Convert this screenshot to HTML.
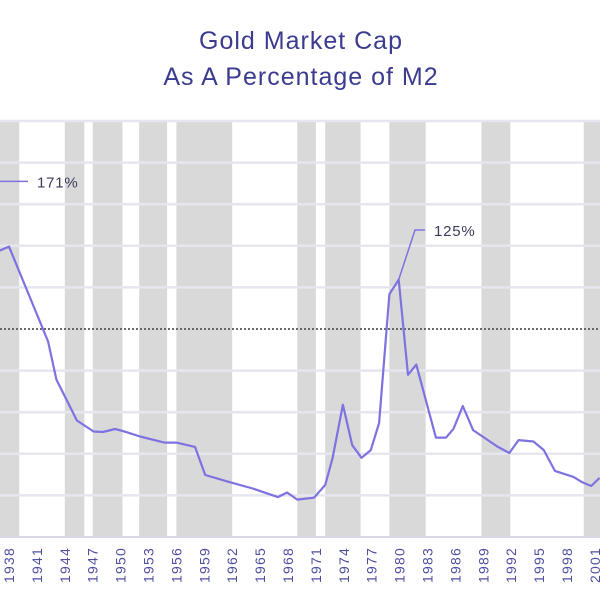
<!DOCTYPE html>
<html><head><meta charset="utf-8">
<style>
body{margin:0;background:#fff;}
svg{display:block;font-family:"Liberation Sans",sans-serif;}
</style></head>
<body>
<svg id="chart" width="600" height="600" viewBox="0 0 600 600">
  <text x="301" y="49" text-anchor="middle" font-size="25" letter-spacing="1" fill="#3b3b8f">Gold Market Cap</text>
  <text x="301" y="85" text-anchor="middle" font-size="25" letter-spacing="1" fill="#3b3b8f">As A Percentage of M2</text>
  <g id="bands"></g>
  <g id="grid"></g>
  <g id="series"></g>
  <g id="xlabels"></g>
  <g id="annot"></g>
</svg>
<script>
const years = [1937.0,1938,1942.2,1943.1,1945.3,1947.1,1948.1,1949.4,1950.2,1952.1,1954.7,1956.0,1958.0,1959.1,1961.7,1964.2,1966.9,1967.9,1969.0,1970.8,1972.0,1972.8,1973.9,1974.9,1975.9,1976.9,1977.8,1978.9,1979.9,1980.9,1981.8,1983.9,1985.0,1985.8,1986.8,1987.9,1990.5,1991.8,1992.8,1994.4,1995.5,1996.7,1998.7,1999.6,2000.6,2001.5];
const values = [137.7,139.6,94,75.7,56,50.7,50.5,51.9,51,48.3,45.4,45.4,43.3,29.8,26.4,23.3,19.2,21.4,18,18.9,25,38,63.6,44.2,38.1,41.8,54.8,116.8,123.7,78,82.9,47.8,47.8,52,63,51.4,43.5,40.4,46.6,45.9,41.8,31.8,28.9,26.4,24.5,28.4];
const bandStarts = [1937.0,1944.0,1947.0,1952.0,1956.0,1969.0,1972.0,1978.9,1988.8,1999.8];
const bandEnds   = [1939.1,1946.1,1950.2,1955.0,1962.0,1971.0,1975.8,1982.8,1991.9,2002.0];
const tickYears = [1938,1941,1944,1947,1950,1953,1956,1959,1962,1965,1968,1971,1974,1977,1980,1983,1986,1989,1992,1995,1998,2001];
const gridValues = [20,40,60,80,120,140,160,180,200];

const NS="http://www.w3.org/2000/svg";
const TOP=122, BOTTOM=537;
function xS(yr){return 9+(yr-1938)*9.3;}
function yS(v){return BOTTOM-v*2.08;}
function mk(tag,attrs,parent){const e=document.createElementNS(NS,tag);for(const k in attrs)e.setAttribute(k,attrs[k]);document.getElementById(parent).appendChild(e);return e;}

for(let i=0;i<bandStarts.length;i++){
  const r=mk('rect',{x:xS(bandStarts[i]),y:TOP,width:xS(bandEnds[i])-xS(bandStarts[i]),height:BOTTOM-TOP,fill:'#d9d9d9'},'bands');
  
  
}
for(const g of gridValues){
  const yy=yS(g);
  if(yy<TOP-2) continue;
  const l=mk('line',{x1:0,x2:600,y1:yy,y2:yy,stroke:'#e6e6f0','stroke-width':2.5},'grid');
  
  
}
const ref=mk('line',{x1:0,x2:600,y1:yS(100),y2:yS(100),stroke:'#555','stroke-width':1.8,'stroke-dasharray':'2,2'},'grid');


const ax=mk('line',{x1:0,x2:600,y1:BOTTOM,y2:BOTTOM,stroke:'#d8d8e8','stroke-width':2},'grid');



const pts=years.map((y,i)=>xS(y).toFixed(1)+','+yS(values[i]).toFixed(1)).join(' ');
const pl=mk('polyline',{points:pts,fill:'none',stroke:'#7d72e0','stroke-width':2.2,'stroke-linejoin':'round'},'series');



for(const t of tickYears){
  const x=xS(t)+5, y=583;
  const tx=mk('text',{x:x,y:y,transform:`rotate(-90 ${x} ${y})`,'font-size':14,'letter-spacing':1.2,fill:'#4f4fa0'},'xlabels');
  tx.textContent=t;
  
  
}

const a1=mk('line',{x1:0,x2:28,y1:yS(171),y2:yS(171),stroke:'#7d72e0','stroke-width':1.5},'annot');


const t1=mk('text',{x:37,y:yS(171)+6,'font-size':15,'letter-spacing':0.8,fill:'#3a3a5a'},'annot');
t1.textContent='171%';


const px=xS(1979.9), py=yS(123.7);
const a2=mk('polyline',{points:`${px},${py} 415,230 425,230`,fill:'none',stroke:'#7d72e0','stroke-width':1.5},'annot');


const t2=mk('text',{x:434,y:236,'font-size':15,'letter-spacing':0.8,fill:'#3a3a5a'},'annot');
t2.textContent='125%';


</script>
</body></html>
